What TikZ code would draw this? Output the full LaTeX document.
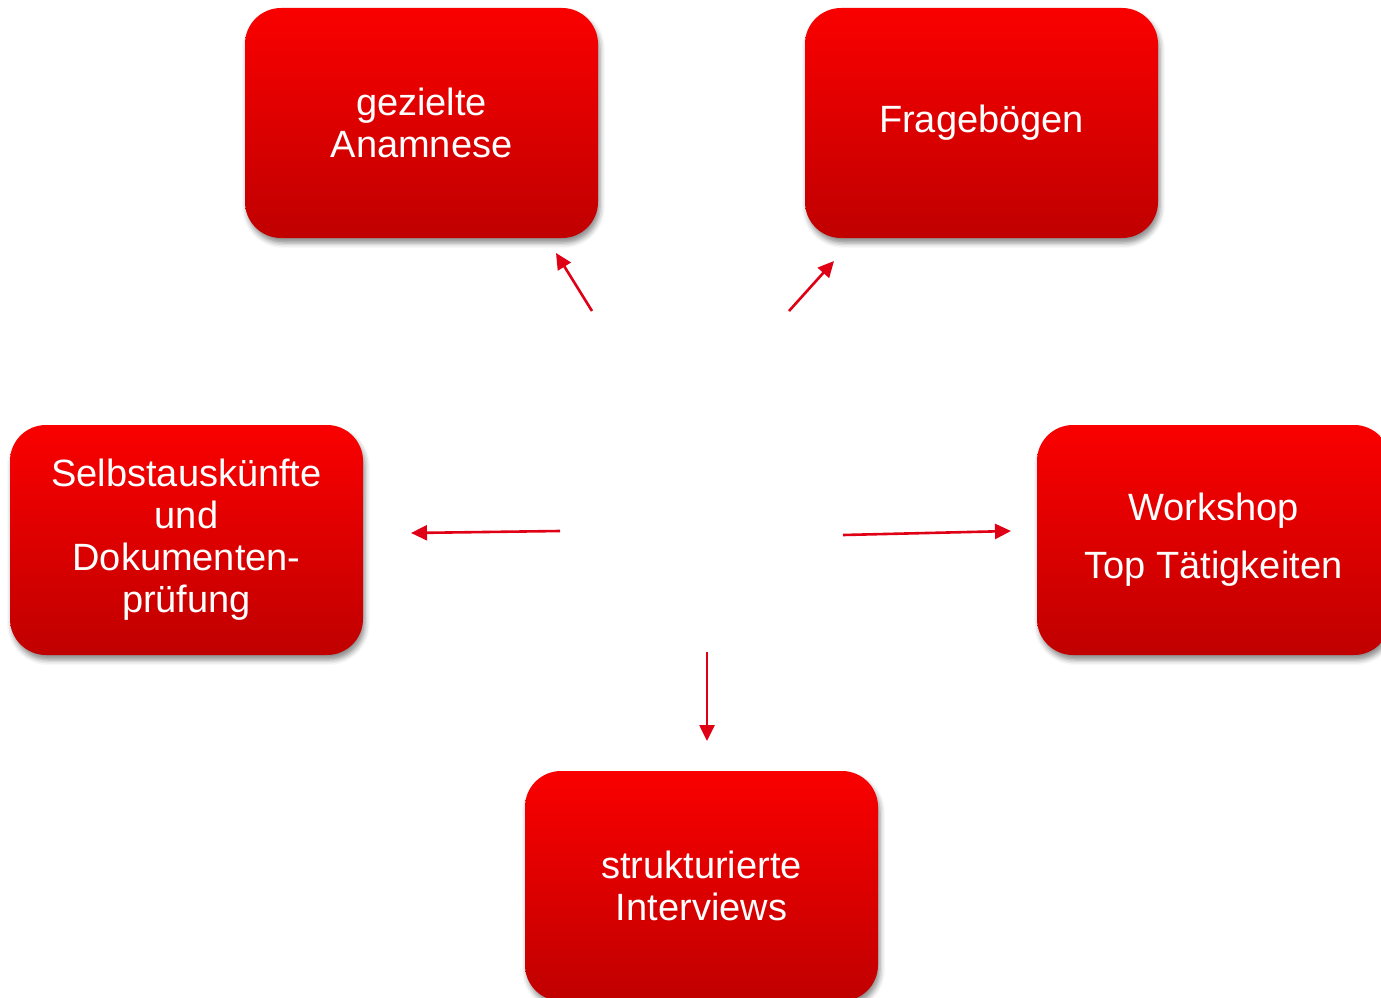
\documentclass[tikz,border=0pt]{standalone}
\usepackage{fontspec}
\setmainfont{Liberation Sans}
\usetikzlibrary{arrows.meta,shadows.blur}
\definecolor{boxtop}{RGB}{250,0,0}
\definecolor{boxbot}{RGB}{192,0,0}
\definecolor{arrowred}{RGB}{224,0,22}
\tikzset{
  boxnode/.style={rounded corners=36pt, minimum width=353pt, minimum height=230pt,
    top color=boxtop, bottom color=boxbot, draw=none, text=white, align=center,
    font=\fontsize{38}{42}\selectfont,
    blur shadow={shadow xshift=2pt, shadow yshift=-5pt, shadow blur radius=5pt, shadow opacity=45}},
  linkarrow/.style={draw=arrowred, line width=2.6pt, -{Triangle[length=16pt,width=15pt]}}
}
\begin{document}
\begin{tikzpicture}[x=1pt,y=-1pt]
\useasboundingbox (0,0) rectangle (1381,998);
\clip (0,0) rectangle (1381,998);
\node[boxnode] (anam) at (421.5,123) {gezielte\\Anamnese};
\node[boxnode] (frag) at (981.5,123) {Fragebögen};
\node[boxnode] (selb) at (186.5,540) {Selbstauskünfte\\und\\Dokumenten-\\prüfung};
\node[boxnode] (work) at (1213.5,540) {Workshop\\[16pt]Top Tätigkeiten};
\node[boxnode] (intv) at (701.5,886) {strukturierte\\Interviews};
\coordinate (sA) at (592,311); \coordinate (eA) at (556,253);
\coordinate (sB) at (789,311); \coordinate (eB) at (834,261);
\coordinate (sC) at (560,531); \coordinate (eC) at (411,533);
\coordinate (sD) at (843,535); \coordinate (eD) at (1011,531);
\coordinate (sE) at (707,652); \coordinate (eE) at (707,741);
\draw[linkarrow] (sA) -- (eA);
\draw[linkarrow] (sB) -- (eB);
\draw[linkarrow] (sC) -- (eC);
\draw[linkarrow] (sD) -- (eD);
\draw[linkarrow] (sE) -- (eE);
\end{tikzpicture}
\end{document}
